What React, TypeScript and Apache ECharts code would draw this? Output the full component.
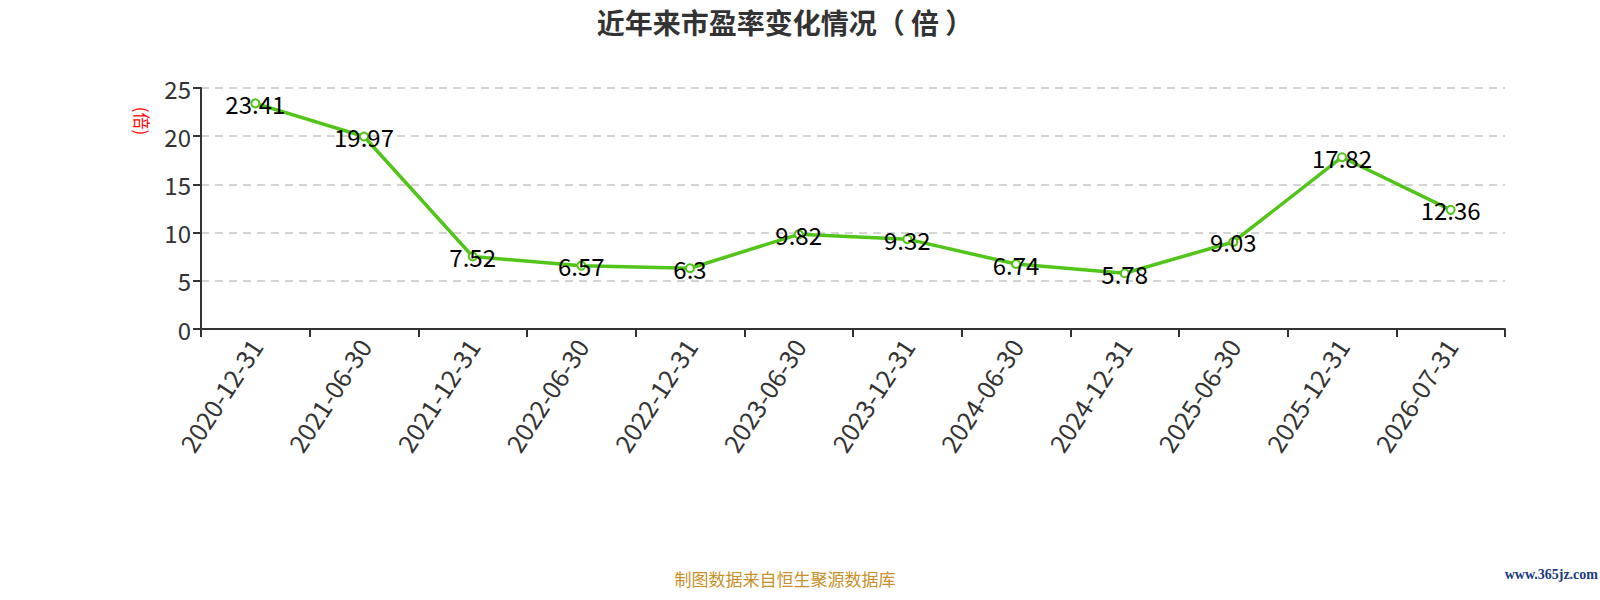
import React, { useEffect, useRef } from "react";
import * as echarts from "echarts";

const categories = [
  "2020-12-31", "2021-06-30", "2021-12-31", "2022-06-30", "2022-12-31", "2023-06-30",
  "2023-12-31", "2024-06-30", "2024-12-31", "2025-06-30", "2025-12-31", "2026-07-31",
];
const peValues = [23.41, 19.97, 7.52, 6.57, 6.3, 9.82, 9.32, 6.74, 5.78, 9.03, 17.82, 12.36];
const titleText = "近年来市盈率变化情况（ 倍 ）";
const unitText = "(倍)";
const sourceText = "制图数据来自恒生聚源数据库";
const watermarkText = "www.365jz.com";

const FONT = "'Noto Sans CJK SC', 'Noto Sans', sans-serif";

export default function App() {
  const ref = useRef<HTMLDivElement>(null);
  useEffect(() => {
    if (!ref.current) return;
    const chart = echarts.init(ref.current, undefined, { renderer: "svg" });
    chart.setOption({
      animation: false,
      backgroundColor: "#ffffff",
      textStyle: { fontFamily: FONT },
      title: {
        text: titleText,
        left: 780,
        top: 3,
        textAlign: "center",
        textStyle: { fontSize: 28, fontWeight: "bold", color: "#333333", fontFamily: FONT },
      },
      grid: { left: 201, right: 95, top: 88, bottom: 271, containLabel: false },
      xAxis: {
        type: "category",
        data: categories,
        boundaryGap: true,
        axisLine: { lineStyle: { color: "#333333", width: 2 } },
        axisTick: { show: true, length: 8, lineStyle: { color: "#333333", width: 2 } },
        axisLabel: { rotate: 57, fontSize: 25, color: "#333333", margin: 12, interval: 0, fontFamily: FONT },
      },
      yAxis: {
        type: "value",
        min: 0,
        max: 25,
        interval: 5,
        axisLine: { show: true, lineStyle: { color: "#333333", width: 2 } },
        axisTick: { show: true, length: 8, lineStyle: { color: "#333333", width: 2 } },
        axisLabel: { fontSize: 24, color: "#333333", margin: 10, fontFamily: FONT },
        splitLine: { show: true, lineStyle: { color: "#c8c8c8", type: [8, 6], width: 1.5 } },
      },
      graphic: [
        {
          type: "text",
          x: 142,
          y: 121,
          rotation: -Math.PI / 2,
          style: {
            text: unitText,
            fill: "#ff0000",
            fontSize: 17,
            fontFamily: FONT,
            align: "center",
            verticalAlign: "middle",
          },
        },
        {
          type: "text",
          x: 785,
          y: 578,
          style: {
            text: sourceText,
            fill: "#c8902a",
            fontSize: 17,
            fontFamily: FONT,
            align: "center",
            verticalAlign: "middle",
          },
        },
        {
          type: "text",
          x: 1598,
          y: 574,
          style: {
            text: watermarkText,
            fill: "#1a3b7c",
            fontSize: 14,
            fontWeight: "bold",
            fontFamily: "'Liberation Serif', 'DejaVu Serif', serif",
            align: "right",
            verticalAlign: "middle",
          },
        },
      ],
      series: [
        {
          type: "line",
          data: peValues,
          symbol: "emptyCircle",
          symbolSize: 8,
          lineStyle: { color: "#52c41a", width: 3.5 },
          itemStyle: { color: "#52c41a", borderWidth: 2 },
          label: {
            show: true,
            position: "inside",
            fontSize: 24,
            color: "#000000",
            fontFamily: FONT,
          },
        },
      ],
    });
    return () => chart.dispose();
  }, []);
  return (
    <div
      ref={ref}
      style={{ position: "fixed", left: 0, top: 0, width: 1600, height: 600 }}
    />
  );
}
